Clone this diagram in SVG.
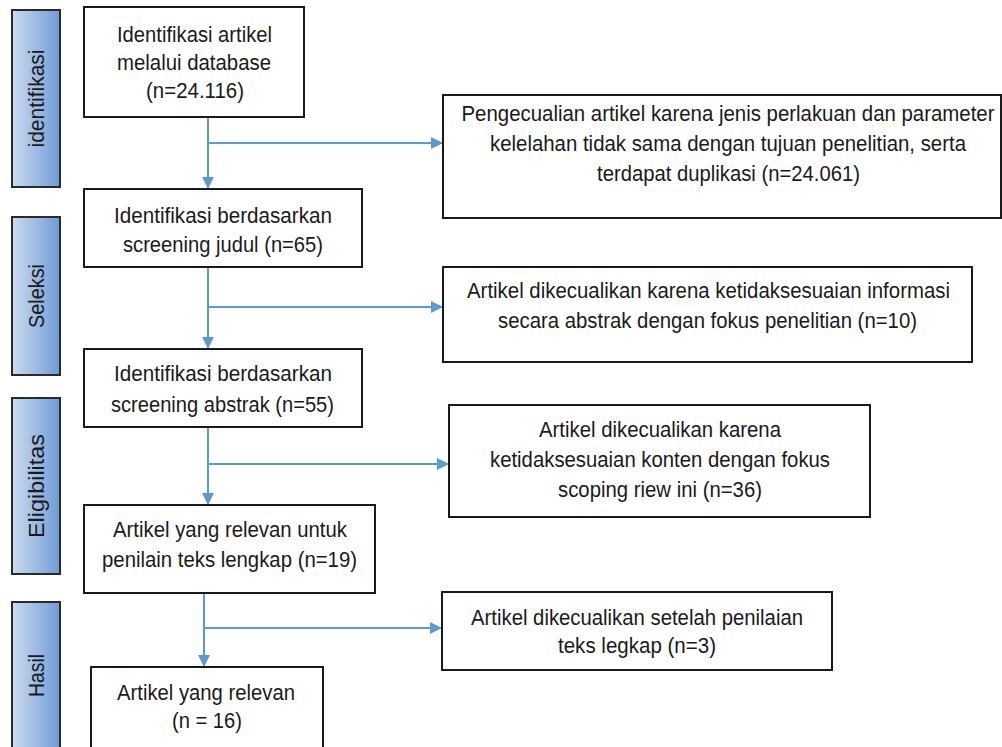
<svg xmlns="http://www.w3.org/2000/svg" width="1002" height="747" viewBox="0 0 1002 747">
<style>
.box{fill:#fff;stroke:#1a1a1a;stroke-width:2}
.bar{fill:url(#g);stroke:#2a2a2a;stroke-width:2}
.t{font-family:"Liberation Sans",Arial,sans-serif;font-size:22px;fill:#1a1a1a;text-anchor:middle}
.c{stroke:#5b9bd5;stroke-width:2;fill:none}
</style>
<defs>
<linearGradient id="g" x1="0" y1="0" x2="1" y2="0">
<stop offset="0" stop-color="#cddcef"/>
<stop offset="1" stop-color="#6f9bd6"/>
</linearGradient>
<marker id="a" markerUnits="userSpaceOnUse" markerWidth="12" markerHeight="12" refX="12" refY="6" orient="auto">
<path d="M0,0 L12,6 L0,12 Z" fill="#5b9bd5"/>
</marker>
</defs>
<rect width="1002" height="747" fill="#fff"/>

<g id="bar-identifikasi"><rect class="bar" x="12" y="10" width="48" height="177"/>
<text class="t" transform="translate(44,98.5) rotate(-90)" textLength="98" lengthAdjust="spacingAndGlyphs">identifikasi</text></g>
<g id="bar-seleksi"><rect class="bar" x="12" y="217" width="48" height="158"/>
<text class="t" transform="translate(44,296) rotate(-90)" textLength="64" lengthAdjust="spacingAndGlyphs">Seleksi</text></g>
<g id="bar-eligibilitas"><rect class="bar" x="12" y="398" width="48" height="176"/>
<text class="t" transform="translate(44,486) rotate(-90)" textLength="104" lengthAdjust="spacingAndGlyphs">Eligibilitas</text></g>
<g id="bar-hasil"><rect class="bar" x="12" y="602" width="48" height="150"/>
<text class="t" transform="translate(44,675.5) rotate(-90)" textLength="43" lengthAdjust="spacingAndGlyphs">Hasil</text></g>

<g id="connectors">
<path class="c" d="M208,117 V189" marker-end="url(#a)"/>
<path class="c" d="M208,143 H443" marker-end="url(#a)"/>
<path class="c" d="M208,267 V349" marker-end="url(#a)"/>
<path class="c" d="M208,307 H443" marker-end="url(#a)"/>
<path class="c" d="M208,427 V505" marker-end="url(#a)"/>
<path class="c" d="M208,464 H449" marker-end="url(#a)"/>
<path class="c" d="M204,593 V667" marker-end="url(#a)"/>
<path class="c" d="M204,628 H442" marker-end="url(#a)"/>
</g>

<g id="n1"><rect class="box" x="84" y="7" width="220" height="110"/>
<text class="t" x="194.5" y="42" textLength="155" lengthAdjust="spacingAndGlyphs">Identifikasi artikel</text>
<text class="t" x="194" y="70" textLength="154" lengthAdjust="spacingAndGlyphs">melalui database</text>
<text class="t" x="195" y="98" textLength="98" lengthAdjust="spacingAndGlyphs">(n=24.116)</text></g>

<g id="n2"><rect class="box" x="84" y="189" width="278" height="78"/>
<text class="t" x="223" y="223" textLength="218" lengthAdjust="spacingAndGlyphs">Identifikasi  berdasarkan</text>
<text class="t" x="223" y="252" textLength="200" lengthAdjust="spacingAndGlyphs">screening judul (n=65)</text></g>

<g id="n3"><rect class="box" x="84" y="349" width="278" height="78"/>
<text class="t" x="223" y="381" textLength="218" lengthAdjust="spacingAndGlyphs">Identifikasi  berdasarkan</text>
<text class="t" x="222.5" y="412" textLength="223" lengthAdjust="spacingAndGlyphs">screening abstrak (n=55)</text></g>

<g id="n4"><rect class="box" x="84" y="505" width="291" height="88"/>
<text class="t" x="230" y="537" textLength="234" lengthAdjust="spacingAndGlyphs">Artikel yang relevan untuk</text>
<text class="t" x="229.5" y="567" textLength="255" lengthAdjust="spacingAndGlyphs">penilain teks lengkap (n=19)</text></g>

<g id="n5"><rect class="box" x="91" y="667" width="232" height="90"/>
<text class="t" x="206" y="700" textLength="178" lengthAdjust="spacingAndGlyphs">Artikel yang relevan</text>
<text class="t" x="207" y="728" textLength="70" lengthAdjust="spacingAndGlyphs">(n = 16)</text></g>

<g id="r1"><rect class="box" x="443" y="95" width="558" height="123"/>
<text class="t" x="728" y="121" textLength="533" lengthAdjust="spacingAndGlyphs">Pengecualian artikel karena jenis perlakuan dan parameter</text>
<text class="t" x="728" y="151" textLength="476" lengthAdjust="spacingAndGlyphs">kelelahan tidak sama dengan tujuan penelitian, serta</text>
<text class="t" x="728.5" y="181" textLength="263" lengthAdjust="spacingAndGlyphs">terdapat duplikasi (n=24.061)</text></g>

<g id="r2"><rect class="box" x="443" y="267" width="529" height="95"/>
<text class="t" x="708.5" y="298" textLength="483" lengthAdjust="spacingAndGlyphs">Artikel dikecualikan karena ketidaksesuaian informasi</text>
<text class="t" x="707.5" y="328" textLength="419" lengthAdjust="spacingAndGlyphs">secara abstrak dengan fokus penelitian (n=10)</text></g>

<g id="r3"><rect class="box" x="449" y="405" width="421" height="112"/>
<text class="t" x="660" y="437" textLength="242" lengthAdjust="spacingAndGlyphs">Artikel dikecualikan karena</text>
<text class="t" x="660" y="467" textLength="340" lengthAdjust="spacingAndGlyphs">ketidaksesuaian konten dengan fokus</text>
<text class="t" x="660" y="497" textLength="204" lengthAdjust="spacingAndGlyphs">scoping riew ini (n=36)</text></g>

<g id="r4"><rect class="box" x="442" y="592" width="390" height="78"/>
<text class="t" x="637" y="625" textLength="332" lengthAdjust="spacingAndGlyphs">Artikel dikecualikan setelah penilaian</text>
<text class="t" x="637" y="653" textLength="158" lengthAdjust="spacingAndGlyphs">teks legkap (n=3)</text></g>
</svg>
